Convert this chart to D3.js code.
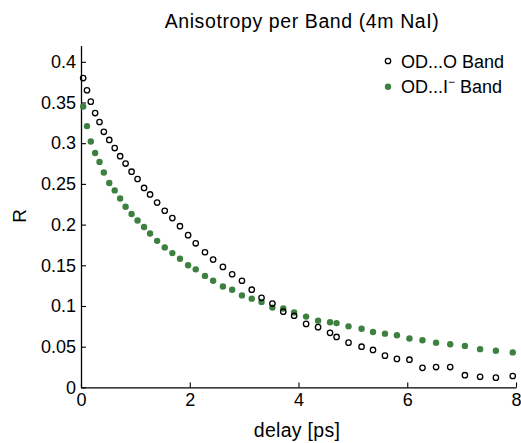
<!DOCTYPE html>
<html>
<head>
<meta charset="utf-8">
<script src="https://cdn.jsdelivr.net/npm/d3@7"></script>
<style>
    body { margin: 0; background: #fff; }
    svg { display: block; }
    text { font-family: "Liberation Sans", Arial, Helvetica, sans-serif; fill: #000; }
</style>
</head>
<body>
<div id="chart"></div>
<script>
// delay [ps] sampling (same for both bands)
var delays = [0.04, 0.11, 0.18, 0.26, 0.34, 0.42, 0.52, 0.62, 0.72, 0.82,
    0.93, 1.04, 1.16, 1.27, 1.40, 1.54, 1.68, 1.82, 1.97, 2.11,
    2.28, 2.43, 2.61, 2.78, 2.96, 3.14, 3.32, 3.52, 3.72, 3.92,
    4.14, 4.36, 4.58, 4.70, 4.92, 5.16, 5.37, 5.59, 5.81, 6.04,
    6.28, 6.53, 6.79, 7.06, 7.34, 7.63, 7.94];

var oBand = [0.380, 0.365, 0.351, 0.337, 0.326, 0.314, 0.304, 0.294, 0.284, 0.275,
    0.265, 0.256, 0.245, 0.237, 0.227, 0.217, 0.208, 0.198, 0.187, 0.177,
    0.166, 0.157, 0.148, 0.139, 0.131, 0.120, 0.110, 0.103, 0.093, 0.088,
    0.078, 0.074, 0.067, 0.062, 0.055, 0.050, 0.046, 0.039, 0.035, 0.034,
    0.024, 0.025, 0.025, 0.015, 0.013, 0.012, 0.014];

var iBand = [0.345, 0.321, 0.302, 0.288, 0.277, 0.264, 0.251, 0.242, 0.232, 0.222,
    0.213, 0.205, 0.197, 0.189, 0.180, 0.172, 0.165, 0.158, 0.150, 0.145,
    0.137, 0.131, 0.124, 0.120, 0.113, 0.109, 0.105, 0.098, 0.097, 0.092,
    0.087, 0.082, 0.080, 0.079, 0.075, 0.072, 0.068, 0.066, 0.064, 0.060,
    0.058, 0.055, 0.053, 0.051, 0.047, 0.045, 0.043];

var xTicks = [0, 2, 4, 6, 8];
var yTicks = [0, 0.05, 0.1, 0.15, 0.2, 0.25, 0.3, 0.35, 0.4];
var legendLabels = ["OD...O", "OD...I"];

var width = 521, height = 443;
var margin = { top: 45.5, right: 5, bottom: 55.6, left: 81 };
var green = "#3d8040";

var svg = d3.select("#chart").append("svg")
    .attr("width", width)
    .attr("height", height);

var x = d3.scaleLinear().domain([0, 8]).range([margin.left, width - margin.right]);
var y = d3.scaleLinear().domain([0, 0.42]).range([height - margin.bottom, margin.top]);

// axes, ticks pointing inward
var xAxis = d3.axisBottom(x).tickValues(xTicks).tickFormat(d3.format("d"))
    .tickSizeInner(-5).tickSizeOuter(0).tickPadding(6);
var yAxis = d3.axisLeft(y).tickValues(yTicks).tickFormat(function (d) { return String(+d.toFixed(2)); })
    .tickSizeInner(-5).tickSizeOuter(0).tickPadding(5);

var gx = svg.append("g")
    .attr("transform", "translate(0," + y(0) + ")")
    .call(xAxis);
var gy = svg.append("g")
    .attr("transform", "translate(" + x(0) + ",0)")
    .call(yAxis);

[gx, gy].forEach(function (g) {
    g.select(".domain").attr("stroke", "#000").attr("stroke-width", 1.3);
    g.selectAll(".tick line").attr("stroke", "#000").attr("stroke-width", 1.1);
    g.selectAll(".tick text")
        .attr("font-size", 18)
        .attr("font-family", "Liberation Sans, Arial, sans-serif")
        .attr("fill", "#000");
});
gx.selectAll(".tick text").attr("dy", "0.71em");

// series
svg.append("g").selectAll("circle")
    .data(delays)
    .enter()
    .append("circle")
    .attr("cx", function (d) { return x(d); })
    .attr("cy", function (d, i) { return y(iBand[i]); })
    .attr("r", 3.2)
    .attr("fill", green);

svg.append("g").selectAll("circle")
    .data(delays)
    .enter()
    .append("circle")
    .attr("cx", function (d) { return x(d); })
    .attr("cy", function (d, i) { return y(oBand[i]); })
    .attr("r", 2.7)
    .attr("fill", "none")
    .attr("stroke", "#000")
    .attr("stroke-width", 1.3);

// title and labels
svg.append("text")
    .attr("x", 302)
    .attr("y", 28)
    .attr("text-anchor", "middle")
    .attr("font-size", 19.5)
    .attr("letter-spacing", 0.6)
    .text("Anisotropy per Band (4m NaI)");

svg.append("text")
    .attr("x", 297)
    .attr("y", 437)
    .attr("text-anchor", "middle")
    .attr("font-size", 19.5)
    .attr("letter-spacing", 0.3)
    .text("delay [ps]");

svg.append("text")
    .attr("transform", "translate(26,216) rotate(-90)")
    .attr("text-anchor", "middle")
    .attr("font-size", 19)
    .text("R");

// legend
var legend = svg.append("g").attr("transform", "translate(388,61)");
var rows = legend.selectAll("g")
    .data(legendLabels)
    .enter()
    .append("g")
    .attr("transform", function (d, i) { return "translate(0," + i * 25.7 + ")"; });

rows.append("circle")
    .attr("r", function (d, i) { return i ? 3.2 : 2.7; })
    .attr("fill", function (d, i) { return i ? green : "none"; })
    .attr("stroke", function (d, i) { return i ? null : "#000"; })
    .attr("stroke-width", 1.3);

var labels = rows.append("text")
    .attr("x", 13)
    .attr("y", 6.5)
    .attr("font-size", 18)
    .text(function (d) { return d; });

// superscript minus on the iodide label
labels.filter(function (d, i) { return i === 1; })
    .append("tspan")
    .attr("dy", -7)
    .attr("font-size", 12)
    .text("\u2212");
labels.filter(function (d, i) { return i === 1; })
    .append("tspan")
    .attr("dy", 7)
    .text(" Band");
labels.filter(function (d, i) { return i === 0; })
    .append("tspan")
    .text(" Band");
</script>
</body>
</html>
